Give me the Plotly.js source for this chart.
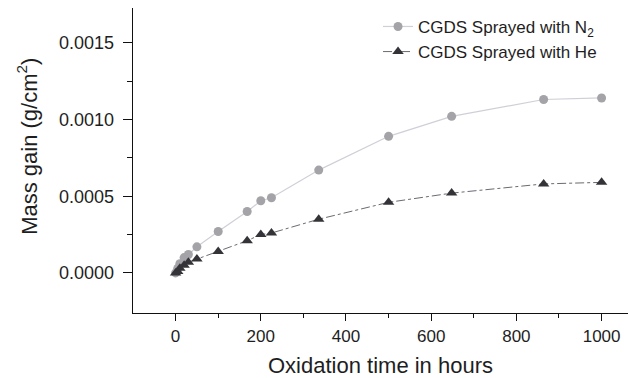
<!DOCTYPE html>
<html>
<head>
<meta charset="utf-8">
<script src="https://cdn.plot.ly/plotly-3.0.1.min.js"></script>
<style>html,body{margin:0;padding:0;background:#fff;}#chart{width:628px;height:378px;}</style>
</head>
<body>
<div id="chart"></div>
<script>
var hoursN2 = [0, 5, 10, 20, 30, 50, 100, 168, 200, 225, 336, 500, 648, 864, 1000];
var massN2 = [0, 0.00003, 0.00006, 0.0001, 0.00012, 0.00017, 0.00027, 0.0004, 0.00047, 0.00049, 0.00067, 0.00089, 0.00102, 0.00113, 0.00114];
var hoursHe = [0, 5, 10, 20, 30, 50, 100, 168, 200, 225, 336, 500, 648, 864, 1000];
var massHe = [0, 0.00001, 0.00003, 0.00005, 0.00007, 0.00009, 0.00014, 0.00021, 0.00025, 0.00026, 0.00035, 0.00046, 0.00052, 0.00058, 0.00059];
var nameN2 = 'CGDS Sprayed with N<sub>2</sub>';
var nameHe = 'CGDS Sprayed with He';
var xTitle = 'Oxidation time in hours';
var yTitle = 'Mass gain (g/cm<sup>2</sup>)';

var font = 'Liberation Sans, Arial, sans-serif';
var traces = [
  {x: hoursN2, y: massN2, name: nameN2, mode: 'lines+markers', type: 'scatter',
   line: {color: '#cfcfd8', width: 1.2},
   marker: {symbol: 'circle', size: 9, color: '#a3a3a8'}},
  {x: hoursHe, y: massHe, name: nameHe, mode: 'lines+markers', type: 'scatter',
   line: {color: '#6a6a72', width: 1, dash: 'dashdot'},
   marker: {symbol: 'triangle-up', size: 10, color: '#333338'}}
];
var layout = {
  width: 628, height: 378,
  margin: {l: 133, r: 0, t: 8, b: 65},
  paper_bgcolor: '#ffffff', plot_bgcolor: '#ffffff',
  font: {family: font, color: '#1e1e1e', size: 16},
  showlegend: true,
  legend: {x: 0.495, y: 0.997, xanchor: 'left', yanchor: 'top', bgcolor: 'rgba(0,0,0,0)',
           font: {size: 17, color: '#1e1e1e'}, tracegroupgap: 0, itemwidth: 30},
  xaxis: {range: [-100, 1062], showgrid: false, zeroline: false, showline: true,
          linecolor: '#111', linewidth: 1.3, ticks: 'outside', ticklen: 7, tickcolor: '#111',
          tickvals: [0, 200, 400, 600, 800, 1000], tickfont: {size: 17},
          minor: {tickvals: [100, 300, 500, 700, 900], ticks: 'outside', ticklen: 4, tickcolor: '#111'},
          title: {text: xTitle, font: {size: 22}, standoff: 13}},
  yaxis: {range: [-0.000261, 0.001726], showgrid: false, zeroline: false, showline: true,
          linecolor: '#111', linewidth: 1.3, ticks: 'outside', ticklen: 9, tickcolor: '#111',
          tickvals: [0, 0.0005, 0.001, 0.0015], tickformat: '.4f', tickfont: {size: 18},
          ticklabelstandoff: 5,
          minor: {tickvals: [0.00025, 0.00075, 0.00125], ticks: 'outside', ticklen: 5, tickcolor: '#111'}},
  annotations: [{text: yTitle, textangle: -90, xref: 'paper', yref: 'paper',
                 x: -0.214, y: 0.545, xanchor: 'center', yanchor: 'middle', showarrow: false,
                 font: {size: 22, color: '#1e1e1e'}}]
};
Plotly.newPlot('chart', traces, layout, {displayModeBar: false, staticPlot: true});
</script>
</body>
</html>
